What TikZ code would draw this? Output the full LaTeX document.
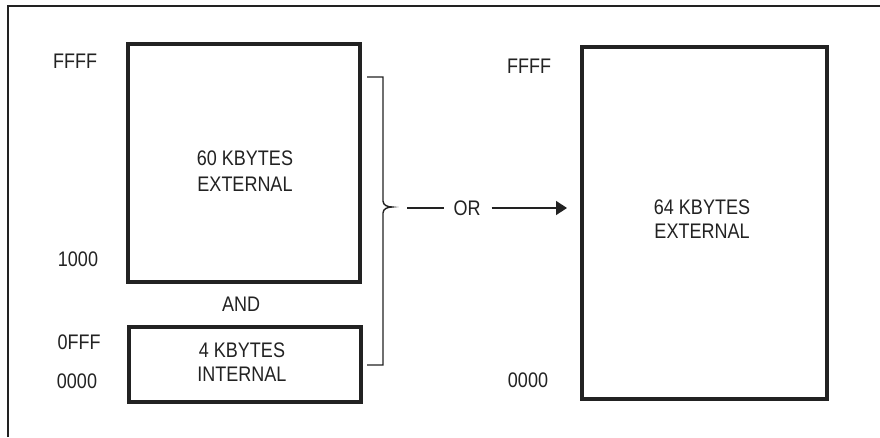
\documentclass[tikz,border=0pt]{standalone}
\usepackage{fontspec}
\usepackage{graphicx}
\setmainfont{Liberation Sans}
\usetikzlibrary{arrows.meta}
\definecolor{ink}{HTML}{222222}
\newcommand{\tallt}[1]{\scalebox{1.0}[1.17]{#1}}
\tikzset{
  membox/.style={draw=ink, rectangle, inner sep=0pt, outer sep=0pt, fill=white},
  lbl/.style={inner sep=0pt, text=ink, font=\fontsize{18}{20}\selectfont},
  thinline/.style={draw=ink, line width=1.4pt},
}
\begin{document}
\begin{tikzpicture}[x=1pt,y=-1pt]
\useasboundingbox (0,0) rectangle (880,437);
\fill[white] (0,0) rectangle (880,437);
% outer frame (partly cut off)
\draw[ink, line width=1.5pt] (8,437) -- (8,6) -- (880,6);

% boxes
\node[membox, line width=4pt, minimum width=232pt, minimum height=238pt] (ext60) at (244,163) {};
\node[membox, line width=3.6pt, minimum width=232pt, minimum height=75pt] (int4) at (245,364.5) {};
\node[membox, line width=3.2pt, minimum width=245pt, minimum height=352pt] (ext64) at (704.5,223) {};

% texts inside boxes
\node[lbl] (t60a) at (245,158) {\tallt{60 KBYTES}};
\node[lbl] (t60b) at (245,184) {\tallt{EXTERNAL}};
\node[lbl] (t4a) at (242,350) {\tallt{4 KBYTES}};
\node[lbl] (t4b) at (242,374) {\tallt{INTERNAL}};
\node[lbl] (t64a) at (702,207) {\tallt{64 KBYTES}};
\node[lbl] (t64b) at (702,231) {\tallt{EXTERNAL}};

% address labels
\node[lbl] (aFFFF) at (75,61) {\tallt{FFFF}};
\node[lbl] (a1000) at (78,259) {\tallt{1000}};
\node[lbl] (and) at (241,304) {\tallt{AND}};
\node[lbl] (a0FFF) at (79,342) {\tallt{0FFF}};
\node[lbl] (a0000) at (77,381) {\tallt{0000}};
\node[lbl] (bFFFF) at (529,66) {\tallt{FFFF}};
\node[lbl] (b0000) at (528,380) {\tallt{0000}};

% brace
\coordinate (btop) at (367,77);
\coordinate (bbot) at (367,365);
\coordinate (btip) at (392,207);
\draw[thinline, line join=miter] (btop) -- (383,77) -- (383,201)
   to[out=-90,in=180] (btip) to[out=180,in=90] (383,213) -- (383,365) -- (bbot);

% OR arrow
\node[lbl] (or) at (467,208) {\tallt{OR}};
\coordinate (orstart) at (407,208);
\coordinate (tip) at (567,208);
\draw[thinline] (orstart) -- ([xshift=-9pt]or.west);
\draw[thinline, -{Triangle[length=11pt,width=14pt]}] ([xshift=11pt]or.east) -- (tip);
\end{tikzpicture}
\end{document}
